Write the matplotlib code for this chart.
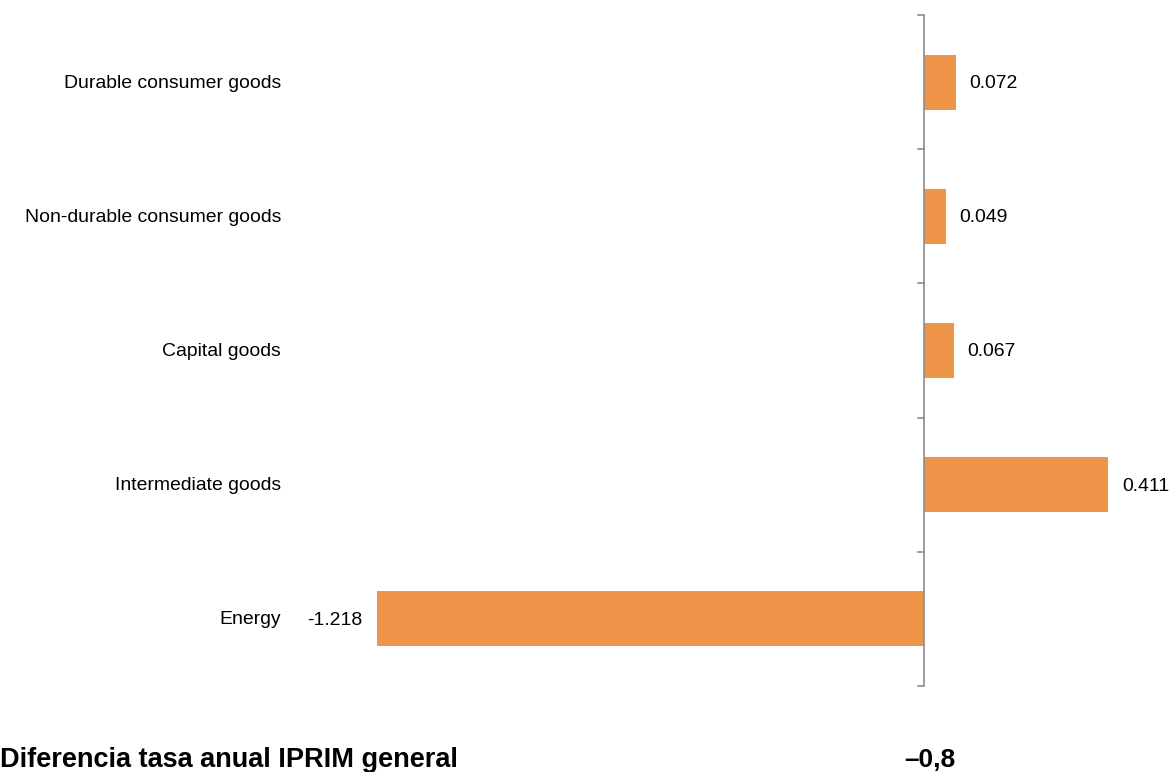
import matplotlib
matplotlib.use("Agg")
import matplotlib.pyplot as plt
import matplotlib.transforms as mtransforms

plt.rcParams['font.family'] = ['Liberation Sans', 'DejaVu Sans']

categories = ["Energy", "Intermediate goods", "Capital goods",
              "Non-durable consumer goods", "Durable consumer goods"]
values = [-1.218, 0.411, 0.067, 0.049, 0.072]
value_labels = ["-1.218", "0.411", "0.067", "0.049", "0.072"]
footer_label = "Diferencia tasa anual IPRIM general"
footer_value = "\u20130,8"

W, H = 1174, 772
fig = plt.figure(figsize=(W / 100, H / 100), dpi=100)

# axes placed in pixel coordinates
x0_px, x1_px = 300, 1150
y_top_px, y_bot_px = 15, 686
ax = fig.add_axes([x0_px / W, 1 - y_bot_px / H, (x1_px - x0_px) / W, (y_bot_px - y_top_px) / H])

zero_px = 923.5
ppu = 449.0
ax.set_xlim((x0_px - zero_px) / ppu, (x1_px - zero_px) / ppu)
ax.set_ylim(-0.5, len(categories) - 0.5)

ypos = list(range(len(categories)))
ax.barh(ypos, values, height=0.41, color="#EE9549", zorder=2)

for s in ["top", "right", "bottom", "left"]:
    ax.spines[s].set_visible(False)
ax.set_xticks([])
ax.set_yticks([])

# zero line with tick marks at category boundaries
ax.axvline(0, color="#8c8c8c", lw=1.2, zorder=3)
for b in [i - 0.5 for i in range(len(categories) + 1)]:
    ax.plot([-6 / ppu, 0], [b, b], color="#8c8c8c", lw=1.2, zorder=3, clip_on=False)

fs = 13.95
# value labels
for y, v, lab in zip(ypos, values, value_labels):
    if v >= 0:
        ax.annotate(lab, (v, y), xytext=(10, -1), textcoords="offset points",
                    ha="left", va="center", fontsize=fs, color="#000000",
                    annotation_clip=False)
    else:
        ax.annotate(lab, (v, y), xytext=(-10, -1), textcoords="offset points",
                    ha="right", va="center", fontsize=fs, color="#000000",
                    annotation_clip=False)

# category labels, right-aligned at a fixed pixel x
trans = mtransforms.blended_transform_factory(fig.transFigure, ax.transData)
offset = mtransforms.ScaledTranslation(0, -1 / 100, fig.dpi_scale_trans)
for y, c in zip(ypos, categories):
    fig.text(281 / W, y, c, transform=trans + offset, ha="right", va="center",
             fontsize=fs, color="#000000")

# footer
fig.text(0 / W, 1 - 767 / H, footer_label, ha="left", va="baseline",
         fontsize=19.5, fontweight="bold", color="#000000")
fig.text(904 / W, 1 - 767 / H, footer_value, ha="left", va="baseline",
         fontsize=19, fontweight="bold", color="#000000")

fig.savefig("out.png", dpi=100)
